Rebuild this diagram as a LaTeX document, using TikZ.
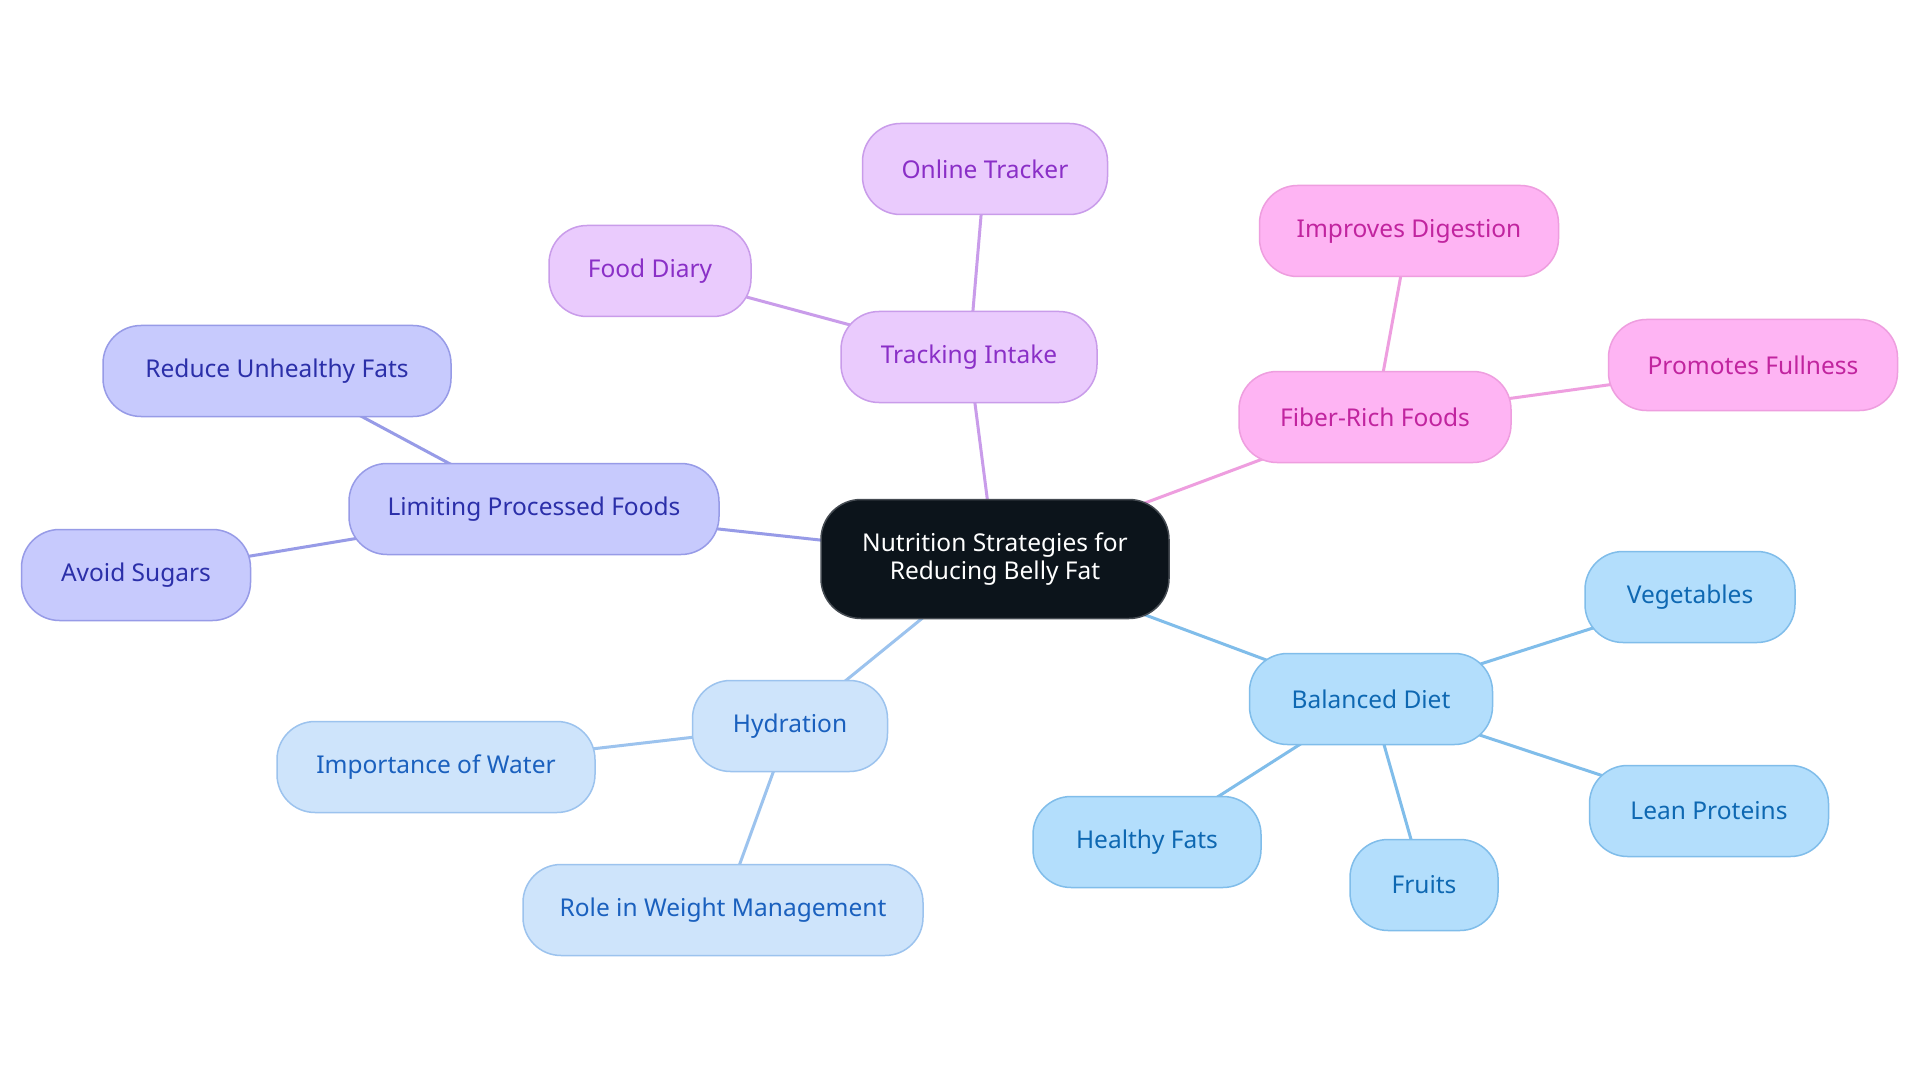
\documentclass[tikz,border=0pt]{standalone}
\usepackage{fontspec}
\setmainfont{Noto Sans}
\usetikzlibrary{backgrounds}
\definecolor{cdark}{HTML}{0C141B}
\definecolor{cdarkb}{HTML}{454B52}
\definecolor{bfill}{HTML}{B3DEFC}\definecolor{bline}{HTML}{80BDEA}\definecolor{btext}{HTML}{0E68B2}
\definecolor{hfill}{HTML}{CEE4FB}\definecolor{hline}{HTML}{9CC3EE}\definecolor{htext}{HTML}{1A60BE}
\definecolor{lfill}{HTML}{C7CAFD}\definecolor{lline}{HTML}{979BE7}\definecolor{ltext}{HTML}{2B2FA9}
\definecolor{tfill}{HTML}{EACBFD}\definecolor{tline}{HTML}{C99CEA}\definecolor{ttext}{HTML}{8A2FC7}
\definecolor{ffill}{HTML}{FEB4F3}\definecolor{fline}{HTML}{EE9EDF}\definecolor{ftext}{HTML}{C1249F}
\tikzset{
  box/.style={rounded corners=38pt, minimum height=91pt, inner sep=0pt, line width=1.5pt,
    font=\fontsize{24.5}{27.5}\selectfont, align=center},
  rootbox/.style={box, fill=cdark, draw=cdarkb, text=white, minimum height=119pt, minimum width=348pt, rounded corners=40pt},
  bbox/.style={box, fill=bfill, draw=bline, text=btext},
  hbox/.style={box, fill=hfill, draw=hline, text=htext},
  lbox/.style={box, fill=lfill, draw=lline, text=ltext},
  tbox/.style={box, fill=tfill, draw=tline, text=ttext},
  fbox/.style={box, fill=ffill, draw=fline, text=ftext},
  link/.style={line width=3pt}
}
\begin{document}
\begin{tikzpicture}[x=1pt,y=-1pt]
\useasboundingbox (0,0) rectangle (1920,1083);
\node[rootbox] (root) at (995,559) {Nutrition Strategies for\\Reducing Belly Fat};
% Balanced diet
\node[bbox, minimum width=243pt] (bd) at (1371,699) {Balanced Diet};
\node[bbox, minimum width=210pt] (veg) at (1690,597) {Vegetables};
\node[bbox, minimum width=239pt] (lean) at (1709,811) {Lean Proteins};
\node[bbox, minimum width=148pt] (fruit) at (1424,885) {Fruits};
\node[bbox, minimum width=228pt] (hfat) at (1147,842) {Healthy Fats};
% Hydration
\node[hbox, minimum width=195pt] (hyd) at (790,726) {Hydration};
\node[hbox, minimum width=318pt] (water) at (436,767) {Importance of Water};
\node[hbox, minimum width=400pt] (role) at (723,910) {Role in Weight Management};
% Limiting
\node[lbox, minimum width=370pt] (lim) at (534,509) {Limiting Processed Foods};
\node[lbox, minimum width=348pt] (unh) at (277,371) {Reduce Unhealthy Fats};
\node[lbox, minimum width=229pt] (sug) at (136,575) {Avoid Sugars};
% Tracking
\node[tbox, minimum width=256pt] (track) at (969,357) {Tracking Intake};
\node[tbox, minimum width=202pt] (diary) at (650,271) {Food Diary};
\node[tbox, minimum width=245pt] (online) at (985,169) {Online Tracker};
% Fiber
\node[fbox, minimum width=272pt] (fiber) at (1375,417) {Fiber-Rich Foods};
\node[fbox, minimum width=299pt] (dig) at (1409,231) {Improves Digestion};
\node[fbox, minimum width=289pt] (full) at (1753,365) {Promotes Fullness};
\begin{scope}[on background layer]
  \fill[white] (0,0) rectangle (1920,1083);
  \draw[link, draw=bline] (root.center) -- (bd.center);
  \draw[link, draw=bline] (bd.center) -- (veg.center);
  \draw[link, draw=bline] (bd.center) -- (lean.center);
  \draw[link, draw=bline] (bd.center) -- (fruit.center);
  \draw[link, draw=bline] (bd.center) -- (hfat.center);
  \draw[link, draw=hline] (root.center) -- (hyd.center);
  \draw[link, draw=hline] (hyd.center) -- (water.center);
  \draw[link, draw=hline] (hyd.center) -- (role.center);
  \draw[link, draw=lline] (root.center) -- (lim.center);
  \draw[link, draw=lline] (lim.center) -- (unh.center);
  \draw[link, draw=lline] (lim.center) -- (sug.center);
  \draw[link, draw=tline] (root.center) -- (track.center);
  \draw[link, draw=tline] (track.center) -- (diary.center);
  \draw[link, draw=tline] (track.center) -- (online.center);
  \draw[link, draw=fline] (root.center) -- (fiber.center);
  \draw[link, draw=fline] (fiber.center) -- (dig.center);
  \draw[link, draw=fline] (fiber.center) -- (full.center);
\end{scope}
\end{tikzpicture}
\end{document}
